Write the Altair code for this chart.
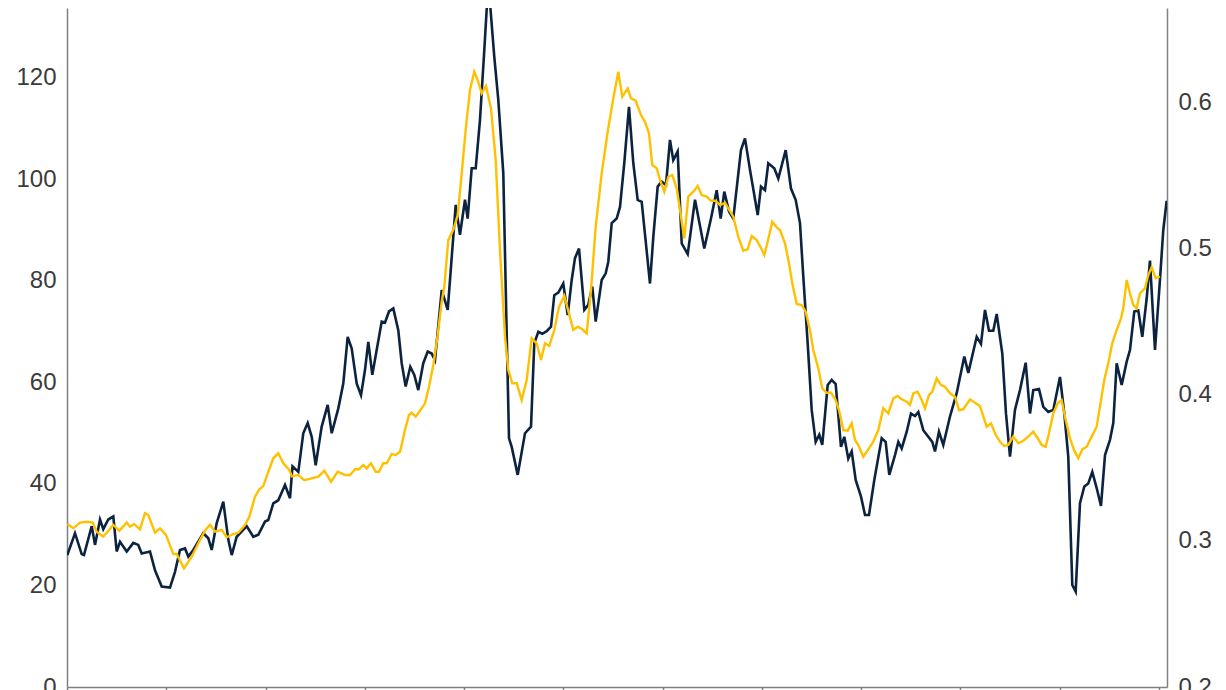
import altair as alt
import pandas as pd

# ---- data (decimal year, value) ----
dark_years = [
    0.006, 0.161, 0.296, 0.342, 0.498, 0.564, 0.665, 0.731, 0.832, 0.933, 1.001, 1.068,
    1.203, 1.336, 1.436, 1.505, 1.672, 1.773, 1.908, 2.075, 2.176, 2.276, 2.377, 2.444,
    2.544, 2.746, 2.847, 2.915, 3.016, 3.149, 3.250, 3.318, 3.419, 3.620, 3.753, 3.854,
    3.989, 4.055, 4.156, 4.257, 4.392, 4.493, 4.543, 4.660, 4.760, 4.849, 4.930, 5.010,
    5.131, 5.252, 5.333, 5.466, 5.566, 5.655, 5.736, 5.836, 5.923, 6.004, 6.070, 6.151,
    6.239, 6.340, 6.406, 6.487, 6.574, 6.674, 6.743, 6.823, 6.916, 6.997, 7.077, 7.178,
    7.267, 7.347, 7.414, 7.549, 7.670, 7.736, 7.831, 7.917, 8.018, 8.072, 8.153, 8.234,
    8.320, 8.407, 8.488, 8.608, 8.689, 8.790, 8.858, 8.905, 8.959, 9.080, 9.227, 9.348,
    9.414, 9.495, 9.575, 9.664, 9.751, 9.817, 9.898, 9.998, 10.087, 10.168, 10.234, 10.315,
    10.422, 10.502, 10.583, 10.651, 10.772, 10.853, 10.905, 10.974, 11.074, 11.141, 11.227, 11.322,
    11.409, 11.497, 11.578, 11.745, 11.812, 11.900, 11.981, 12.067, 12.148, 12.214, 12.303, 12.384,
    12.505, 12.652, 12.839, 12.974, 13.089, 13.169, 13.242, 13.337, 13.423, 13.578, 13.659, 13.760,
    13.915, 13.981, 14.062, 14.128, 14.249, 14.330, 14.479, 14.586, 14.680, 14.767, 14.834, 14.922,
    15.003, 15.083, 15.156, 15.216, 15.325, 15.406, 15.486, 15.593, 15.660, 15.740, 15.809, 15.889,
    15.996, 16.077, 16.157, 16.264, 16.413, 16.493, 16.566, 16.681, 16.748, 16.816, 16.917, 17.003,
    17.084, 17.151, 17.251, 17.352, 17.432, 17.487, 17.567, 17.654, 17.789, 17.924, 18.077, 18.158,
    18.327, 18.413, 18.494, 18.575, 18.661, 18.730, 18.843, 18.917, 18.998, 19.098, 19.199, 19.314,
    19.401, 19.467, 19.582, 19.669, 19.769, 19.870, 20.005, 20.092, 20.172, 20.253, 20.321, 20.408,
    20.495, 20.575, 20.656, 20.744, 20.831, 20.912, 21.012, 21.079, 21.147, 21.248, 21.349, 21.415,
    21.502, 21.582, 21.663, 21.752, 21.818, 21.919, 22.019, 22.086, 22.154,
]
dark_values = [
    26.0, 30.3, 26.2, 26.0, 31.7, 28.0, 33.0, 31.1, 33.0, 33.6, 26.7, 28.6,
    26.7, 28.4, 28.0, 26.3, 26.7, 23.0, 19.8, 19.6, 22.7, 27.0, 27.3, 25.7,
    27.0, 30.3, 29.3, 27.0, 32.3, 36.5, 29.0, 26.0, 29.6, 31.7, 29.6, 30.0,
    32.6, 32.9, 36.2, 36.8, 39.8, 37.2, 43.5, 42.4, 50.0, 52.0, 49.3, 43.7,
    51.3, 55.6, 50.0, 54.9, 59.8, 69.0, 66.7, 59.8, 57.5, 62.5, 68.0, 61.5,
    66.4, 72.0, 71.8, 74.0, 74.6, 70.3, 63.8, 59.2, 63.1, 61.5, 58.5, 63.8,
    66.1, 65.7, 64.4, 78.2, 74.3, 82.8, 95.0, 89.1, 96.0, 92.3, 102.2, 102.2,
    111.7, 125.5, 139.0, 124.2, 115.7, 101.2, 69.7, 49.0, 47.3, 41.8, 50.0, 51.3,
    67.7, 70.0, 69.6, 70.1, 71.0, 77.2, 77.7, 79.5, 73.3, 80.2, 84.5, 86.4,
    74.3, 75.3, 78.9, 72.0, 80.2, 81.5, 83.8, 91.4, 92.3, 94.6, 103.2, 114.3,
    103.2, 96.0, 95.6, 79.5, 88.7, 98.6, 99.6, 98.9, 107.8, 103.8, 105.5, 87.4,
    85.3, 96.0, 86.4, 92.3, 97.9, 92.3, 97.6, 93.7, 92.3, 105.8, 108.1, 101.9,
    93.0, 98.6, 97.9, 103.2, 102.2, 100.2, 105.8, 98.2, 96.0, 91.4, 80.8, 67.7,
    54.6, 48.3, 49.7, 47.7, 59.5, 60.5, 59.7, 47.3, 49.3, 45.0, 46.4, 40.8,
    37.5, 33.9, 33.9, 40.8, 49.0, 48.3, 41.8, 45.7, 48.3, 47.0, 50.3, 53.9,
    53.4, 54.2, 50.6, 49.3, 48.3, 46.4, 50.3, 47.7, 53.3, 57.9, 65.1, 61.9,
    69.0, 67.6, 74.3, 70.2, 70.2, 73.5, 65.7, 53.9, 45.4, 54.6, 58.5, 63.9,
    53.9, 58.5, 58.7, 55.2, 54.2, 54.6, 61.1, 53.9, 45.4, 20.1, 18.8, 36.2,
    39.5, 40.1, 42.4, 39.2, 35.7, 45.7, 48.7, 52.0, 63.8, 59.5, 64.1, 66.4,
    74.0, 74.2, 69.0, 76.6, 84.0, 66.4, 80.2, 90.0, 95.8,
]

yellow_years = [
    0.006, 0.127, 0.262, 0.397, 0.518, 0.598, 0.731, 0.832, 0.933, 1.054, 1.203, 1.269,
    1.350, 1.471, 1.571, 1.638, 1.773, 1.874, 1.994, 2.142, 2.210, 2.357, 2.512, 2.679,
    2.780, 2.881, 2.982, 3.117, 3.217, 3.350, 3.451, 3.586, 3.673, 3.787, 3.874, 3.955,
    4.055, 4.156, 4.257, 4.358, 4.478, 4.533, 4.660, 4.781, 4.930, 5.063, 5.184, 5.319,
    5.453, 5.601, 5.701, 5.802, 5.883, 5.969, 6.038, 6.124, 6.219, 6.286, 6.372, 6.441,
    6.541, 6.622, 6.709, 6.809, 6.890, 6.944, 7.025, 7.112, 7.212, 7.293, 7.380, 7.468,
    7.549, 7.601, 7.682, 7.782, 7.871, 7.952, 8.038, 8.119, 8.205, 8.274, 8.355, 8.441,
    8.542, 8.637, 8.723, 8.824, 8.890, 8.971, 9.060, 9.160, 9.261, 9.362, 9.463, 9.549,
    9.630, 9.716, 9.817, 9.912, 10.019, 10.113, 10.200, 10.289, 10.381, 10.470, 10.557, 10.651,
    10.772, 10.893, 11.006, 11.107, 11.187, 11.296, 11.362, 11.457, 11.564, 11.644, 11.725, 11.791,
    11.880, 11.947, 12.033, 12.114, 12.194, 12.283, 12.350, 12.436, 12.517, 12.617, 12.706, 12.787,
    12.887, 12.974, 13.069, 13.155, 13.256, 13.423, 13.524, 13.625, 13.713, 13.794, 13.895, 13.961,
    14.048, 14.116, 14.209, 14.298, 14.364, 14.465, 14.545, 14.612, 14.701, 14.801, 14.882, 14.968,
    15.035, 15.136, 15.216, 15.305, 15.392, 15.486, 15.553, 15.640, 15.728, 15.809, 15.875, 15.942,
    16.042, 16.143, 16.244, 16.345, 16.445, 16.546, 16.647, 16.735, 16.816, 16.917, 16.983, 17.050,
    17.138, 17.219, 17.285, 17.366, 17.432, 17.521, 17.607, 17.688, 17.789, 17.890, 17.970, 18.057,
    18.192, 18.293, 18.393, 18.528, 18.615, 18.710, 18.796, 18.883, 18.963, 19.064, 19.165, 19.266,
    19.366, 19.467, 19.556, 19.636, 19.717, 19.783, 19.870, 19.959, 20.039, 20.120, 20.206, 20.293,
    20.374, 20.454, 20.543, 20.643, 20.744, 20.811, 20.897, 20.978, 21.058, 21.147, 21.234, 21.280,
    21.349, 21.415, 21.482, 21.550, 21.617, 21.717, 21.784, 21.852, 21.933, 22.019,
]
yellow_values = [
    0.3115, 0.3085, 0.3124, 0.3130, 0.3124, 0.3062, 0.3028, 0.3069, 0.3108, 0.3069, 0.3124, 0.3096,
    0.3115, 0.3078, 0.3188, 0.3176, 0.3055, 0.3085, 0.3040, 0.2909, 0.2909, 0.2811, 0.2891, 0.3005,
    0.3069, 0.3110, 0.3062, 0.3074, 0.3024, 0.3046, 0.3055, 0.3108, 0.3164, 0.3301, 0.3352, 0.3374,
    0.3472, 0.3564, 0.3598, 0.3530, 0.3484, 0.3440, 0.3450, 0.3415, 0.3427, 0.3438, 0.3479, 0.3404,
    0.3472, 0.3450, 0.3450, 0.3489, 0.3489, 0.3518, 0.3495, 0.3530, 0.3472, 0.3472, 0.3530, 0.3530,
    0.3593, 0.3586, 0.3609, 0.3757, 0.3860, 0.3876, 0.3848, 0.3889, 0.3940, 0.4053, 0.4202, 0.4407,
    0.4635, 0.4737, 0.5057, 0.5125, 0.5227, 0.5512, 0.5831, 0.6082, 0.6207, 0.6150, 0.6060, 0.6110,
    0.5957, 0.5603, 0.4988, 0.4395, 0.4168, 0.4077, 0.4077, 0.3962, 0.4099, 0.4384, 0.4350, 0.4236,
    0.4350, 0.4332, 0.4441, 0.4600, 0.4674, 0.4555, 0.4441, 0.4464, 0.4446, 0.4418, 0.4715, 0.5147,
    0.5512, 0.5797, 0.6025, 0.6207, 0.6036, 0.6093, 0.6025, 0.6009, 0.5911, 0.5865, 0.5786, 0.5569,
    0.5547, 0.5467, 0.5387, 0.5489, 0.5501, 0.5410, 0.5262, 0.5068, 0.5353, 0.5387, 0.5426, 0.5364,
    0.5353, 0.5325, 0.5325, 0.5296, 0.5311, 0.5216, 0.5079, 0.4983, 0.4993, 0.5084, 0.5056, 0.5015,
    0.4954, 0.5045, 0.5182, 0.5143, 0.5125, 0.5034, 0.4897, 0.4760, 0.4619, 0.4612, 0.4566, 0.4441,
    0.4304, 0.4179, 0.4042, 0.4012, 0.4012, 0.3962, 0.3894, 0.3757, 0.3753, 0.3803, 0.3689, 0.3655,
    0.3575, 0.3625, 0.3677, 0.3757, 0.3906, 0.3871, 0.3974, 0.3990, 0.3967, 0.3951, 0.3928, 0.4008,
    0.4019, 0.3962, 0.3906, 0.3997, 0.4019, 0.4111, 0.4065, 0.4053, 0.4008, 0.3985, 0.3894, 0.3899,
    0.3967, 0.3944, 0.3921, 0.3780, 0.3803, 0.3723, 0.3677, 0.3648, 0.3655, 0.3712, 0.3667, 0.3684,
    0.3712, 0.3746, 0.3701, 0.3655, 0.3643, 0.3735, 0.3871, 0.3940, 0.3962, 0.3826, 0.3701, 0.3616,
    0.3564, 0.3625, 0.3643, 0.3712, 0.3780, 0.3917, 0.4099, 0.4213, 0.4350, 0.4441, 0.4521, 0.4589,
    0.4783, 0.4692, 0.4612, 0.4589, 0.4692, 0.4726, 0.4817, 0.4870, 0.4795, 0.4806,
]

left_ticks = [0, 20, 40, 60, 80, 100, 120]
right_ticks = [0.2, 0.3, 0.4, 0.5, 0.6]
x_ticks = [0, 2, 4, 6, 8, 10, 12, 14, 16, 18, 20, 22]

dark_df = pd.DataFrame({"t": dark_years, "v": dark_values})
yellow_df = pd.DataFrame({"t": yellow_years, "r": yellow_values})

NAVY = "#0c2340"
GOLD = "#ffc000"
AXIS_GREY = "#808080"
LABEL = "#3b3b3b"
FONT = "Liberation Sans"

x_enc = alt.X(
    "t:Q",
    scale=alt.Scale(domain=[0, 22.161], nice=False, zero=False),
    axis=alt.Axis(
        values=x_ticks, labels=False, title=None, grid=False,
        domainColor=AXIS_GREY, domainWidth=1.5, tickColor=AXIS_GREY,
        tickWidth=1.5, tickSize=7,
    ),
)

dark = alt.Chart(dark_df).mark_line(color=NAVY, strokeWidth=2.6, clip=True).encode(
    x=x_enc,
    y=alt.Y(
        "v:Q",
        scale=alt.Scale(domain=[0, 133.79], nice=False, zero=False),
        axis=alt.Axis(
            orient="left", values=left_ticks, title=None, grid=False, ticks=False,
            domainColor=AXIS_GREY, domainWidth=1.5, labelFont=FONT, labelFontSize=24,
            labelColor=LABEL, labelPadding=11,
        ),
    ),
)

yellow = alt.Chart(yellow_df).mark_line(color=GOLD, strokeWidth=2.4, clip=True).encode(
    x=x_enc,
    y=alt.Y(
        "r:Q",
        scale=alt.Scale(domain=[0.2, 0.6643], nice=False, zero=False),
        axis=alt.Axis(
            orient="right", values=right_ticks, format=".1f", title=None, grid=False,
            ticks=False, domainColor=AXIS_GREY, domainWidth=1.5, labelFont=FONT,
            labelFontSize=24, labelColor=LABEL, labelPadding=11,
        ),
    ),
)

chart = (
    alt.layer(dark, yellow)
    .resolve_scale(y="independent")
    .properties(
        width=1100,
        height=679,
        autosize=alt.AutoSizeParams(type="none"),
        padding={"left": 59, "top": 0, "right": 51, "bottom": 4},
    )
    .configure_view(stroke=None)
)

chart.save("out.html", embed_options={"renderer": "svg", "actions": False})
